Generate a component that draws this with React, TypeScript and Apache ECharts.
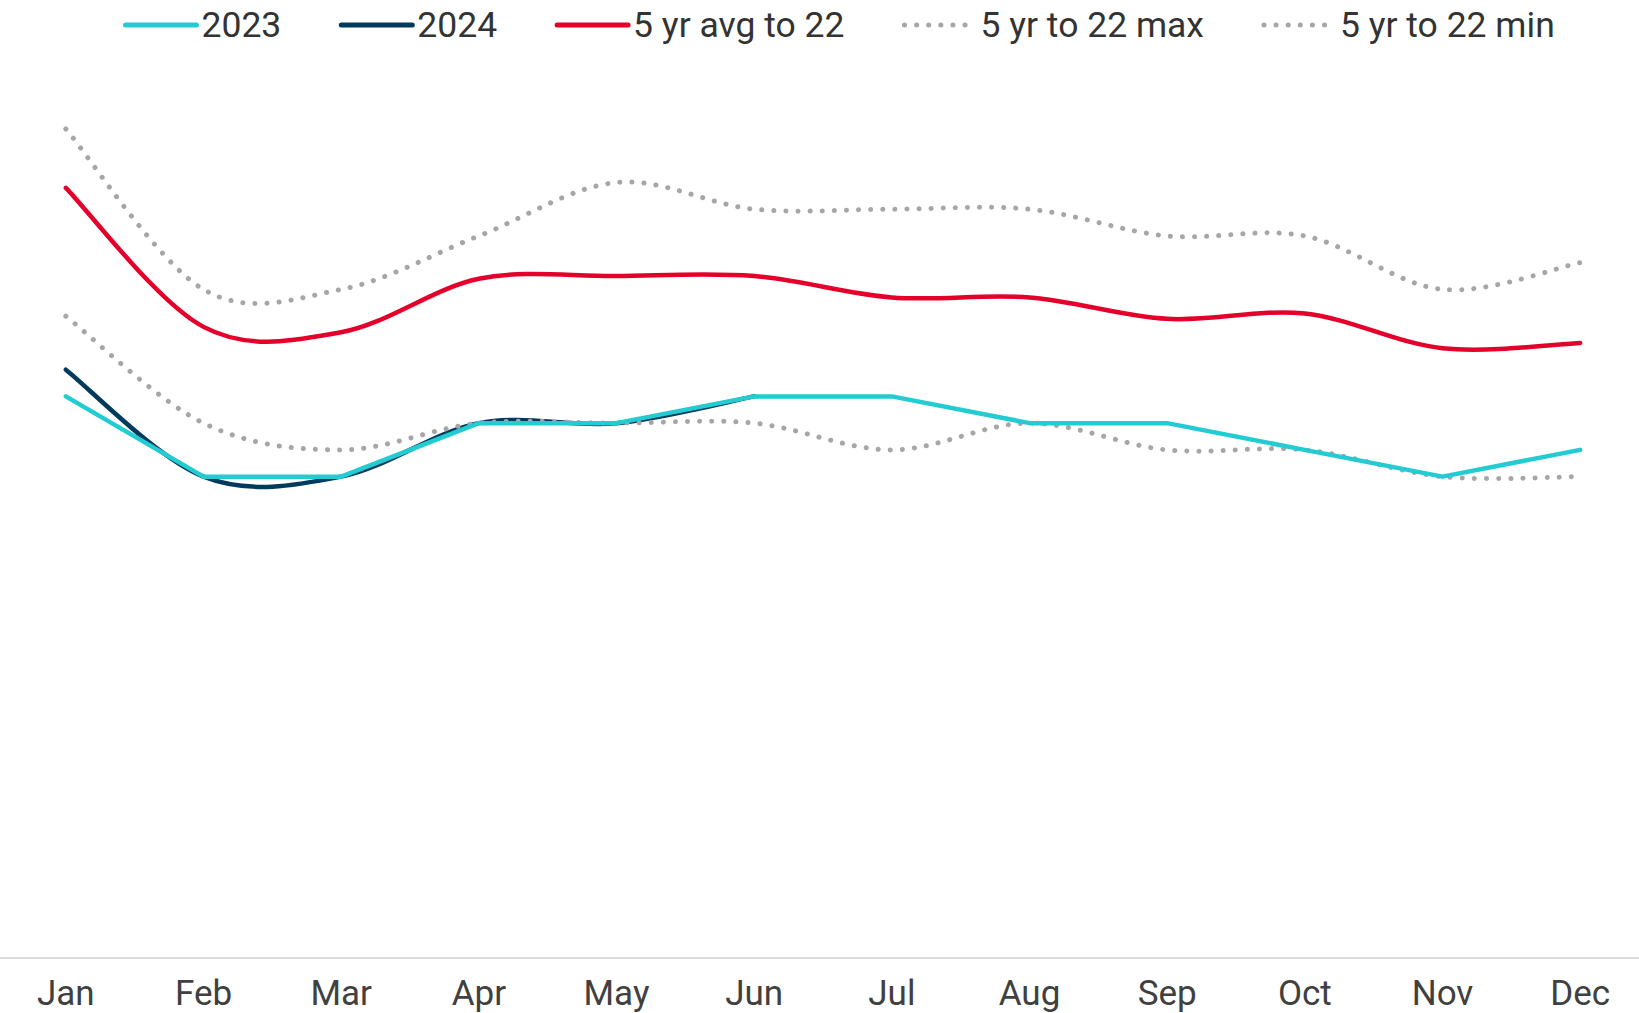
import React, { useEffect, useRef } from "react";
import * as echarts from "echarts";

const months = ["Jan", "Feb", "Mar", "Apr", "May", "Jun", "Jul", "Aug", "Sep", "Oct", "Nov", "Dec"];
const s2023 = [21, 18, 18, 20, 20, 21, 21, 20, 20, 19, 18, 19];
const s2024 = [22, 18, 18, 20, 20, 21];
const avg5 = [28.8, 23.6, 23.4, 25.4, 25.5, 25.5, 24.7, 24.7, 23.9, 24.1, 22.8, 23.0];
const max5 = [31, 25, 25, 27, 29, 28, 28, 28, 27, 27, 25, 26];
const min5 = [24, 20, 19, 20, 20, 20, 19, 20, 19, 19, 18, 18];
const legendNames = ["2023", "2024", "5 yr avg to 22", "5 yr to 22 max", "5 yr to 22 min"];

const FONT = "Roboto, 'Noto Sans', sans-serif";
const CYAN = "#22CCD2";
const NAVY = "#003A5D";
const RED = "#E4002B";
const GREY = "#A6A6A6";
const DOT: number[] = [0.1, 12];

// Excel-like smoothed line drawn as one path through the axis scales
function smoothCurve(id: string, values: number[], color: string, width: number, dash?: number[]) {
  return {
    type: "custom",
    name: id,
    data: values.map((v, i) => [i, v]),
    encode: { x: 0, y: 1 },
    silent: true,
    renderItem: (params: any, api: any) => {
      if (params.dataIndex !== 0) return null;
      const pts = values.map((v, i) => api.coord([i, v]));
      const n = pts.length;
      let d = `M${pts[0][0]},${pts[0][1]}`;
      for (let i = 0; i < n - 1; i++) {
        const p0 = pts[Math.max(i - 1, 0)];
        const p1 = pts[i];
        const p2 = pts[i + 1];
        const p3 = pts[Math.min(i + 2, n - 1)];
        const c1x = p1[0] + (p2[0] - p0[0]) / 6;
        const c1y = p1[1] + (p2[1] - p0[1]) / 6;
        const c2x = p2[0] - (p3[0] - p1[0]) / 6;
        const c2y = p2[1] - (p3[1] - p1[1]) / 6;
        d += ` C${c1x},${c1y} ${c2x},${c2y} ${p2[0]},${p2[1]}`;
      }
      return {
        type: "path",
        shape: { pathData: d },
        style: {
          fill: "none",
          stroke: color,
          lineWidth: width,
          lineDash: dash || null,
          lineCap: "round",
          lineJoin: "round",
        },
      };
    },
  };
}

function legendOnly(name: string, color: string, dash?: number[]) {
  return {
    name,
    type: "line",
    data: [],
    symbol: "none",
    lineStyle: { color, width: 5, cap: "round", type: dash ? (dash as any) : "solid" },
    itemStyle: { color },
  };
}

const OFFSET = 3; // chart canvas extends a little beyond the page on both sides
const CHART_W = 1652;

export default function App() {
  const ref = useRef<HTMLDivElement>(null);
  useEffect(() => {
    document.body.style.margin = "0";
    document.body.style.overflow = "hidden";
    const chart = echarts.init(ref.current!, null, { renderer: "svg" });
    chart.setOption({
      animation: false,
      backgroundColor: "#ffffff",
      legend: {
        top: 0,
        left: 118 + OFFSET,
        itemWidth: 71,
        itemHeight: 2,
        itemGap: 57.5,
        lineStyle: { width: 5, cap: "round" },
        textStyle: { fontSize: 35.5, color: "#333333", fontFamily: FONT, lineHeight: 40 },
        data: legendNames,
      },
      grid: { left: 0, right: 0, top: 22, bottom: 55 },
      xAxis: {
        type: "category",
        data: months,
        boundaryGap: true,
        axisLine: { show: true, lineStyle: { color: "#D9D9D9", width: 2 } },
        axisTick: { show: false },
        axisLabel: { fontSize: 35, color: "#404040", fontFamily: FONT, margin: 18 },
      },
      yAxis: {
        type: "value",
        min: 0,
        max: 35,
        show: false,
        splitLine: { show: false },
      },
      series: [
        {
          name: "2023",
          type: "line",
          data: s2023,
          symbol: "none",
          lineStyle: { color: CYAN, width: 4.5, cap: "round", join: "round" },
          itemStyle: { color: CYAN },
        },
        legendOnly("2024", NAVY),
        legendOnly("5 yr avg to 22", RED),
        legendOnly("5 yr to 22 max", GREY, DOT),
        legendOnly("5 yr to 22 min", GREY, DOT),
        smoothCurve("c2024", s2024, NAVY, 4.5),
        smoothCurve("cavg", avg5, RED, 4.5),
        smoothCurve("cmax", max5, GREY, 5, DOT),
        smoothCurve("cmin", min5, GREY, 5, DOT),
      ],
    });
    return () => chart.dispose();
  }, []);
  return (
    <div style={{ width: 1639, height: 1013, overflow: "hidden", position: "relative" }}>
      <div
        ref={ref}
        style={{ position: "absolute", left: -OFFSET, top: 0, width: CHART_W, height: 1013 }}
      />
    </div>
  );
}
